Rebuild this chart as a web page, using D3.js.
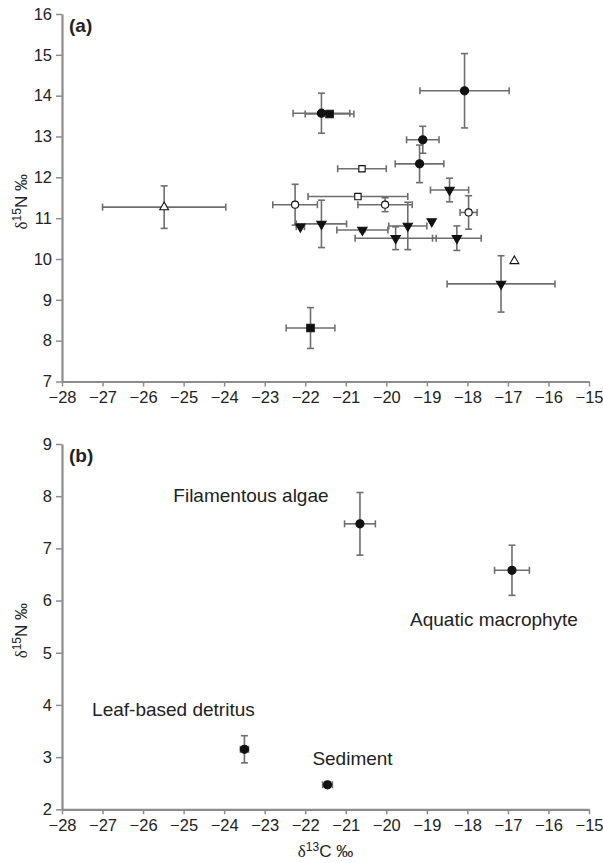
<!DOCTYPE html>
<html>
<head>
<meta charset="utf-8">
<script src="https://cdn.jsdelivr.net/npm/d3@7"></script>
<style>
  body { margin: 0; background: #fff; }
  text { font-family: "Liberation Sans", Arial, sans-serif; fill: #222; }
</style>
</head>
<body>
<div id="chart"></div>
<script>
// panel (a): consumers, mean +/- SD
const aMarker = ['triOpen', 'circleOpen', 'triDown', 'triDown', 'triDown', 'triDown', 'triDown', 'triDown',
  'triDown', 'triDown', 'circleOpen', 'triOpen', 'triDown', 'square', 'circleOpen', 'squareOpen',
  'squareOpen', 'circle', 'circle', 'circle', 'circle', 'square'];
const aX = [-25.48, -22.25, -22.12, -21.6, -20.59, -19.47, -18.88, -19.77, -18.26, -18.44, -17.97,
  -16.84, -17.17, -21.87, -20.03, -20.7, -20.6, -19.18, -19.1, -18.07, -21.6, -21.4];
const aY = [11.27, 11.33, 10.79, 10.86, 10.71, 10.81, 10.92, 10.51, 10.51, 11.69, 11.14,
  9.95, 9.39, 8.31, 11.33, 11.53, 12.21, 12.33, 12.92, 14.12, 13.57, 13.55];
const aXErr = [1.52, 0.55, 0.1, 0.62, 0.63, 0.47, 0, 1.0, 0.6, 0.47, 0.21,
  0, 1.33, 0.6, 0.67, 1.23, 0.6, 0.6, 0.4, 1.1, 0.7, 0.6];
const aYErr = [0.52, 0.5, 0, 0.58, 0.04, 0.58, 0, 0.28, 0.3, 0.29, 0.41,
  0, 0.69, 0.5, 0.17, 0.05, 0.05, 0.46, 0.33, 0.91, 0.49, 0.04];

// panel (b): food sources
const bLabels = ['Filamentous algae', 'Aquatic macrophyte', 'Leaf-based detritus', 'Sediment'];
const bX = [-20.65, -16.9, -23.5, -21.45];
const bY = [7.47, 6.58, 3.15, 2.47];
const bXErr = [0.38, 0.43, 0.1, 0.12];
const bYErr = [0.6, 0.48, 0.26, 0.05];

const xTicks = [-28, -27, -26, -25, -24, -23, -22, -21, -20, -19, -18, -17, -16, -15];
const aYTicks = [7, 8, 9, 10, 11, 12, 13, 14, 15, 16];
const bYTicks = [2, 3, 4, 5, 6, 7, 8, 9];

const width = 603, height = 863;
const left = 62, right = 589;

const svg = d3.select('#chart').append('svg')
  .attr('width', width)
  .attr('height', height);

const symbols = {
  circle: { type: d3.symbolCircle, size: 52, fill: '#111', rot: 0 },
  circleOpen: { type: d3.symbolCircle, size: 40, fill: '#fff', rot: 0 },
  square: { type: d3.symbolSquare, size: 56, fill: '#111', rot: 0 },
  squareOpen: { type: d3.symbolSquare, size: 40, fill: '#fff', rot: 0 },
  triDown: { type: d3.symbolTriangle, size: 38, fill: '#111', rot: 180 },
  triOpen: { type: d3.symbolTriangle, size: 34, fill: '#fff', rot: 0 }
};

const drawPanel = (top, bottom, yDomain, yTicks, tag, pts) => {
  const x = d3.scaleLinear().domain([-28, -15]).range([left, right]);
  const y = d3.scaleLinear().domain(yDomain).range([bottom, top]);
  const g = svg.append('g');

  const yAxis = g.append('g')
    .attr('transform', `translate(${left},0)`)
    .call(d3.axisLeft(y).tickValues(yTicks).tickSize(6).tickSizeOuter(0).tickPadding(4).tickFormat(d3.format('d')));
  const xAxis = g.append('g')
    .attr('transform', `translate(0,${bottom})`)
    .call(d3.axisBottom(x).tickValues(xTicks).tickSize(5).tickSizeOuter(0).tickPadding(5)
      .tickFormat(d3.format('d')));

  [yAxis, xAxis].forEach(ax => {
    ax.select('.domain').attr('stroke', '#8c8c8c').attr('stroke-width', 2.2);
    ax.selectAll('.tick line').attr('stroke', '#8c8c8c').attr('stroke-width', 1.5);
    ax.selectAll('.tick text').attr('fill', '#222').style('font-size', '16.5px')
      .style('font-family', '"Liberation Sans", Arial, sans-serif');
  });

  g.append('text')
    .attr('x', 69).attr('y', top + 18)
    .style('font-size', '19px').style('font-weight', 'bold')
    .text(tag);

  // y title
  const yt = g.append('text')
    .attr('transform', `translate(27,${(top + bottom) / 2 + 4}) rotate(-90)`)
    .attr('text-anchor', 'middle')
    .style('font-size', '17px');
  yt.append('tspan').style('font-family', '"Liberation Serif", serif').text('\u03b4');
  yt.append('tspan').attr('dy', -6).style('font-size', '12px').text('15');
  yt.append('tspan').attr('dy', 6).text('N \u2030');

  // error bars
  const cap = 3.5;
  const eb = g.append('g').attr('stroke', '#6e6e6e').attr('stroke-width', 1.6).attr('fill', 'none');
  pts.forEach(p => {
    const cx = x(p.x), cy = y(p.y);
    if (p.xe > 0) {
      const x0 = x(p.x - p.xe), x1 = x(p.x + p.xe);
      eb.append('line').attr('x1', x0).attr('x2', x1).attr('y1', cy).attr('y2', cy);
      eb.append('line').attr('x1', x0).attr('x2', x0).attr('y1', cy - cap).attr('y2', cy + cap);
      eb.append('line').attr('x1', x1).attr('x2', x1).attr('y1', cy - cap).attr('y2', cy + cap);
    }
    if (p.ye > 0) {
      const y0 = y(p.y - p.ye), y1 = y(p.y + p.ye);
      eb.append('line').attr('x1', cx).attr('x2', cx).attr('y1', y0).attr('y2', y1);
      eb.append('line').attr('x1', cx - cap).attr('x2', cx + cap).attr('y1', y0).attr('y2', y0);
      eb.append('line').attr('x1', cx - cap).attr('x2', cx + cap).attr('y1', y1).attr('y2', y1);
    }
  });

  // markers
  g.append('g').selectAll('path')
    .data(pts)
    .enter().append('path')
    .attr('d', p => d3.symbol().type(symbols[p.m].type).size(symbols[p.m].size)())
    .attr('transform', p => `translate(${x(p.x)},${y(p.y)}) rotate(${symbols[p.m].rot})`)
    .attr('fill', p => symbols[p.m].fill)
    .attr('stroke', '#111')
    .attr('stroke-width', 1.1);

  return { x, y, g };
};

// panel (a)
const aPts = aX.map((v, i) => ({ x: v, y: aY[i], xe: aXErr[i], ye: aYErr[i], m: aMarker[i] }));
drawPanel(14, 381.5, [7, 16], aYTicks, '(a)', aPts);

// panel (b)
const bPts = bX.map((v, i) => ({ x: v, y: bY[i], xe: bXErr[i], ye: bYErr[i], m: 'circle' }));
const pb = drawPanel(444, 809.3, [2, 9], bYTicks, '(b)', bPts);

const labelOffset = [[-109, -22], [-18, 56], [-71, -33], [25, -20]];
pb.g.selectAll('.src')
  .data(bLabels)
  .enter().append('text')
  .attr('class', 'src')
  .attr('x', (d, i) => pb.x(bX[i]) + labelOffset[i][0])
  .attr('y', (d, i) => pb.y(bY[i]) + labelOffset[i][1])
  .attr('text-anchor', 'middle')
  .style('font-size', '19px')
  .text(d => d);

// x title
const xt = svg.append('text')
  .attr('x', (left + right) / 2)
  .attr('y', 857)
  .attr('text-anchor', 'middle')
  .style('font-size', '17px');
xt.append('tspan').style('font-family', '"Liberation Serif", serif').text('\u03b4');
xt.append('tspan').attr('dy', -6).style('font-size', '12px').text('13');
xt.append('tspan').attr('dy', 6).text('C \u2030');
</script>
</body>
</html>
